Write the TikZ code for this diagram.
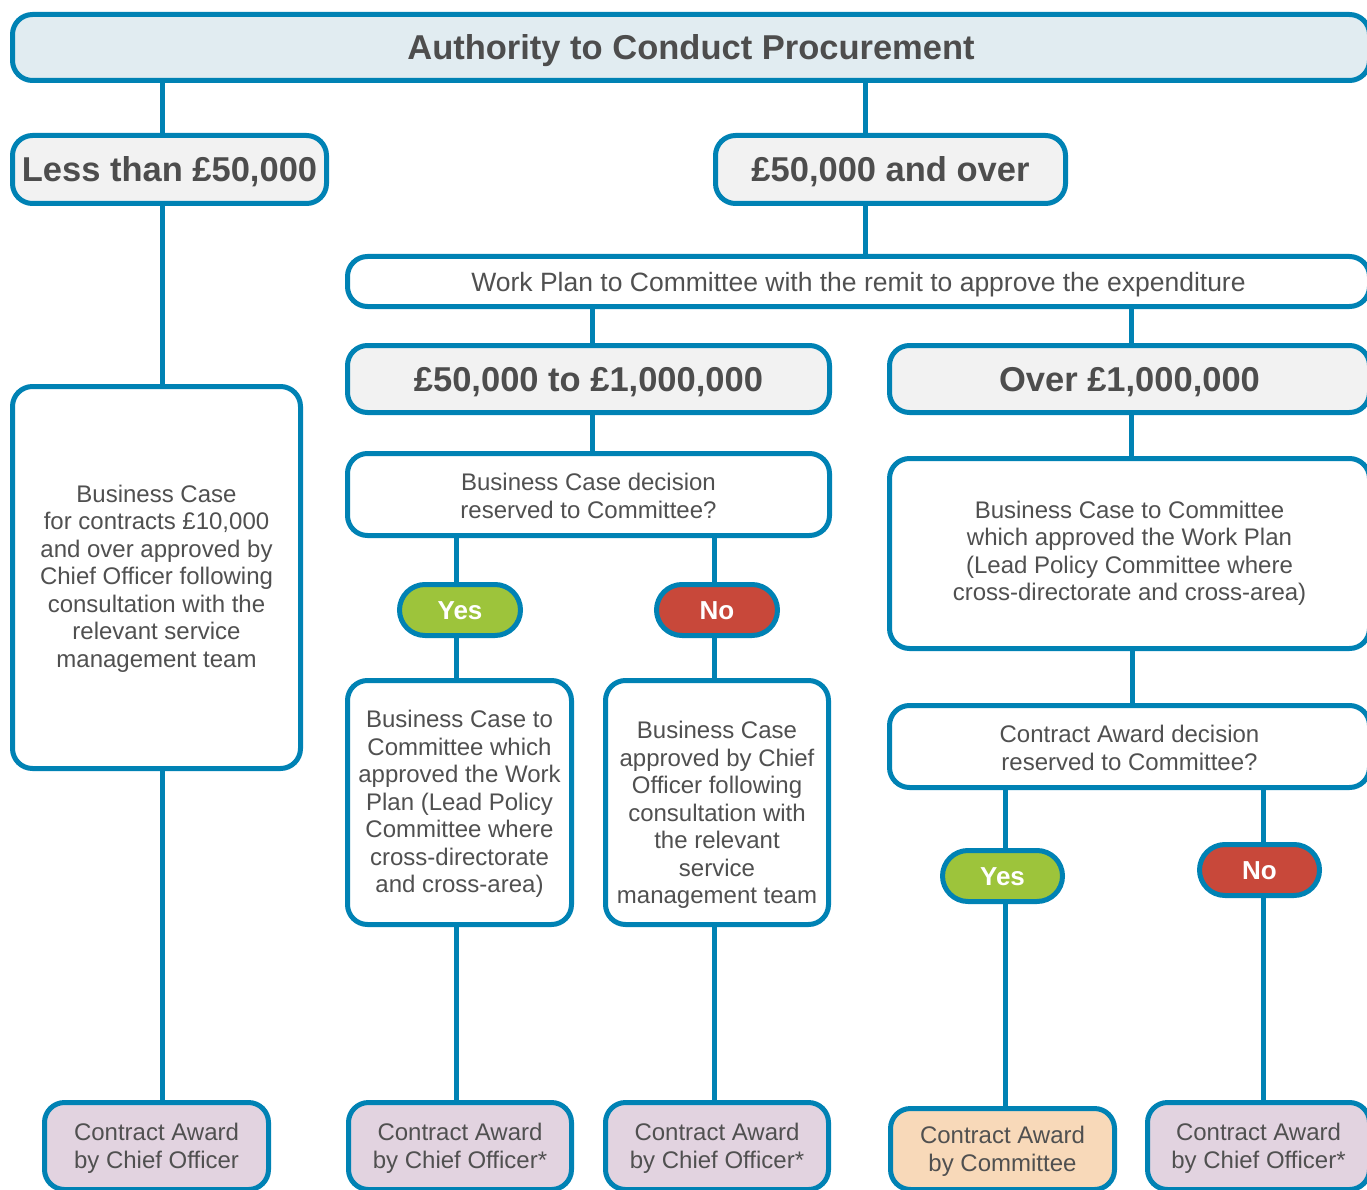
\documentclass[tikz,border=0pt]{standalone}
\usepackage{fontspec}
\setmainfont{Liberation Sans}
\usetikzlibrary{shapes.misc}
\definecolor{bl}{HTML}{0082B4}
\definecolor{titlef}{HTML}{E1ECF1}
\definecolor{greyf}{HTML}{F2F2F2}
\definecolor{txt}{HTML}{505050}
\definecolor{hd}{HTML}{4D4D4D}
\definecolor{yesg}{HTML}{9DC43B}
\definecolor{nor}{HTML}{C8483A}
\definecolor{purf}{HTML}{E2D3E0}
\definecolor{orf}{HTML}{F8D9B9}
\newcommand{\lowr}[1]{\rule{0pt}{#1}}
\begin{document}
\begin{tikzpicture}[x=1pt,y=-1pt,
  box/.style={draw=bl, line width=5pt, rounded corners=20pt, fill=white, text=txt, align=center,
    font=\fontsize{24}{27.5}\selectfont, inner sep=0pt},
  head/.style={box, fill=greyf, text=hd, font=\fontsize{34.5}{40}\selectfont\bfseries,
    text height=24.7pt, text depth=0pt},
  pill/.style={draw=bl, line width=5pt, rounded rectangle, text=white, align=center,
    font=\fontsize{26}{30}\selectfont\bfseries, inner sep=0pt, text height=18.6pt, text depth=0pt},
  award/.style={box, fill=purf},
  conn/.style={draw=bl, line width=5pt}]
\useasboundingbox (0,0) rectangle (1367,1190);
\clip (0,0) rectangle (1367,1190);
% nodes
\node[head, fill=titlef, minimum width=1357pt, minimum height=66pt] (top) at (691,47.5) {Authority to Conduct Procurement};
\node[head, minimum width=314pt, minimum height=68pt] (lt) at (169.5,169.5) {Less than £50,000};
\node[head, minimum width=350pt, minimum height=68pt] (ge) at (890.5,169.5) {£50,000 and over};
\node[box, minimum width=1022pt, minimum height=50pt, font=\fontsize{26.5}{30}\selectfont, text height=19pt, text depth=0pt] (wp) at (858.5,281.5) {Work Plan to Committee with the remit to approve the expenditure};
\node[head, minimum width=482pt, minimum height=67pt] (mid) at (588.5,379) {£50,000 to £1,000,000};
\node[head, minimum width=480pt, minimum height=67pt] (over) at (1129.5,379) {Over £1,000,000};
\node[box, minimum width=482pt, minimum height=82pt] (bcd) at (588.5,494.5) {\lowr{20pt}Business Case decision\\reserved to Committee?};
\node[box, minimum width=480pt, minimum height=190pt] (bcr) at (1129.5,553.5) {Business Case to Committee\\which approved the Work Plan\\(Lead Policy Committee where\\cross-directorate and cross-area)};
\node[box, minimum width=480pt, minimum height=82pt] (cad) at (1129.5,746.5) {\lowr{20pt}Contract Award decision\\reserved to Committee?};
\node[box, minimum width=288pt, minimum height=382pt] (lbig) at (156.5,577.5) {\lowr{19pt}Business Case\\for contracts £10,000\\and over approved by\\Chief Officer following\\consultation with the\\relevant service\\management team};
\node[pill, fill=yesg, minimum width=121pt, minimum height=51pt] (yes1) at (460,610) {Yes};
\node[pill, fill=nor, minimum width=121pt, minimum height=51pt] (no1) at (717,610) {No};
\node[box, minimum width=224pt, minimum height=244pt] (bc1) at (459.5,802.5) {\lowr{20pt}Business Case to\\Committee which\\approved the Work\\Plan (Lead Policy\\Committee where\\cross-directorate\\and cross-area)};
\node[box, minimum width=223pt, minimum height=244pt] (bc2) at (717,802.5) {\lowr{42pt}Business Case\\approved by Chief\\Officer following\\consultation with\\the relevant\\service\\management team};
\node[pill, fill=yesg, minimum width=120pt, minimum height=51pt] (yes2) at (1002.5,876) {Yes};
\node[pill, fill=nor, minimum width=120pt, minimum height=51pt] (no2) at (1259.5,870) {No};
\node[award, minimum width=224pt, minimum height=87pt] (ca1) at (156.5,1146) {\lowr{22pt}Contract Award\\by Chief Officer};
\node[award, minimum width=223pt, minimum height=87pt] (ca2) at (460,1146) {\lowr{22pt}Contract Award\\by Chief Officer*};
\node[award, minimum width=223pt, minimum height=87pt] (ca3) at (717,1146) {\lowr{22pt}Contract Award\\by Chief Officer*};
\node[box, fill=orf, minimum width=224pt, minimum height=81pt] (ca4) at (1002.5,1149) {\lowr{22pt}Contract Award\\by Committee};
\node[award, minimum width=222pt, minimum height=87pt] (ca5) at (1258.5,1146) {\lowr{22pt}Contract Award\\by Chief Officer*};
% connectors
\draw[conn] (top.south -| 162,0) -- (lt.north -| 162,0);
\draw[conn] (top.south -| 865,0) -- (ge.north -| 865,0);
\draw[conn] (lt.south -| 162,0) -- (lbig.north -| 162,0);
\draw[conn] (ge.south -| 865,0) -- (wp.north -| 865,0);
\draw[conn] (wp.south -| 592,0) -- (mid.north -| 592,0);
\draw[conn] (wp.south -| 1131,0) -- (over.north -| 1131,0);
\draw[conn] (mid.south -| 592,0) -- (bcd.north -| 592,0);
\draw[conn] (over.south -| 1131,0) -- (bcr.north -| 1131,0);
\draw[conn] (bcr.south -| 1132,0) -- (cad.north -| 1132,0);
\draw[conn] (bcd.south -| 456,0) -- (yes1.north -| 456,0);
\draw[conn] (yes1.south -| 456,0) -- (bc1.north -| 456,0);
\draw[conn] (bcd.south -| 714,0) -- (no1.north -| 714,0);
\draw[conn] (no1.south -| 714,0) -- (bc2.north -| 714,0);
\draw[conn] (lbig.south -| 162,0) -- (ca1.north -| 162,0);
\draw[conn] (bc1.south -| 456,0) -- (ca2.north -| 456,0);
\draw[conn] (bc2.south -| 714,0) -- (ca3.north -| 714,0);
\draw[conn] (cad.south -| 1005,0) -- (yes2.north -| 1005,0);
\draw[conn] (yes2.south -| 1005,0) -- (ca4.north -| 1005,0);
\draw[conn] (cad.south -| 1263,0) -- (no2.north -| 1263,0);
\draw[conn] (no2.south -| 1263,0) -- (ca5.north -| 1263,0);
\end{tikzpicture}
\end{document}
